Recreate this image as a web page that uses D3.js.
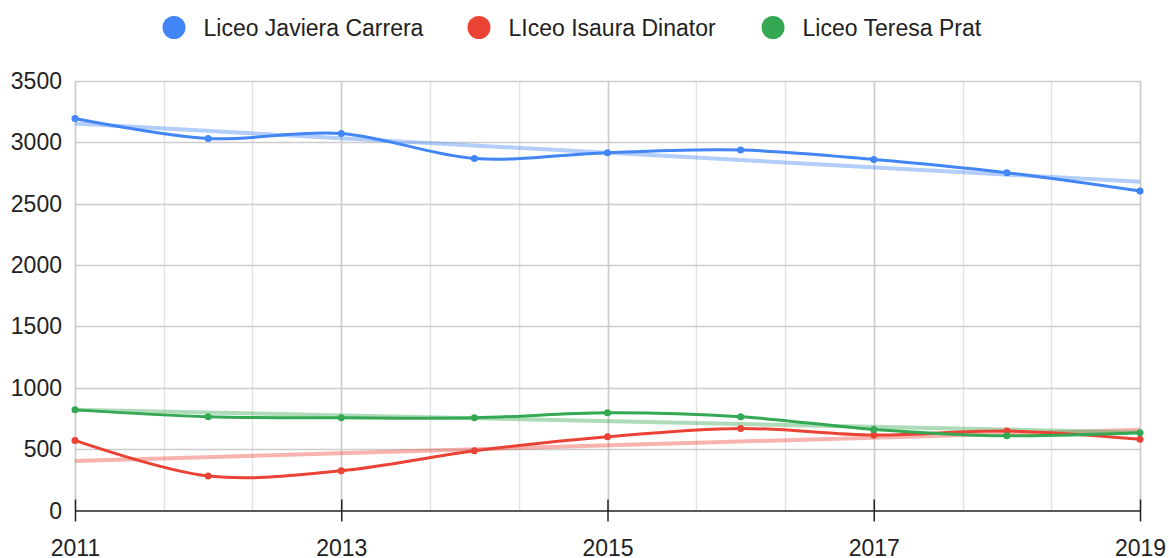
<!DOCTYPE html>
<html>
<head>
<meta charset="utf-8">
<script src="https://cdn.jsdelivr.net/npm/d3@7"></script>
<style>
  body { margin: 0; background: #fff; }
  text { font-family: Arial, "Liberation Sans", sans-serif; fill: #222; }
</style>
</head>
<body>
<div id="chartArea"></div>
<script>
let years = [2011, 2012, 2013, 2014, 2015, 2016, 2017, 2018, 2019]
let seriesNames = ['Liceo Javiera Carrera', 'LIceo Isaura Dinator', 'Liceo Teresa Prat']
let javiera = [3195, 3032, 3073, 2869, 2916, 2937, 2861, 2753, 2603]
let isaura = [571, 281, 324, 487, 601, 669, 615, 647, 580]
let teresa = [820, 764, 755, 755, 796, 764, 661, 609, 633]
let yTicks = [0, 500, 1000, 1500, 2000, 2500, 3000, 3500]
let xTicks = [2011, 2013, 2015, 2017, 2019]

let colors = ['#4285f4', '#ea4335', '#34a853']
let allSeries = [javiera, isaura, teresa]

let svgWidth = 1169
let svgHeight = 558

let xScale = d3.scaleLinear()
              .domain([2011, 2019])
              .range([75, 1140])

let yScale = d3.scaleLinear()
              .domain([0, 3500])
              .range([510.5, 81])

let svg = d3.select('#chartArea')
    .append('svg')
    .attr('width', svgWidth)
    .attr('height', svgHeight)

// minor vertical gridlines (3 per 2 years)
let minor = d3.range(2011, 2019.01, 2 / 3)
svg.append('g').selectAll('line')
    .data(minor)
    .enter()
    .append('line')
    .attr('x1', d => Math.round(xScale(d)) + 0.5)
    .attr('x2', d => Math.round(xScale(d)) + 0.5)
    .attr('y1', yScale(3500))
    .attr('y2', yScale(0))
    .attr('stroke', '#e3e3e3')
    .attr('stroke-width', 1.5)

// major vertical gridlines
svg.append('g').selectAll('line')
    .data(xTicks)
    .enter()
    .append('line')
    .attr('x1', d => Math.round(xScale(d)) + 0.5)
    .attr('x2', d => Math.round(xScale(d)) + 0.5)
    .attr('y1', yScale(3500))
    .attr('y2', yScale(0))
    .attr('stroke', '#cccccc')
    .attr('stroke-width', 1.5)

// horizontal gridlines
svg.append('g').selectAll('line')
    .data(yTicks.slice(1))
    .enter()
    .append('line')
    .attr('x1', xScale(2011))
    .attr('x2', xScale(2019))
    .attr('y1', d => Math.round(yScale(d)) + 0.5)
    .attr('y2', d => Math.round(yScale(d)) + 0.5)
    .attr('stroke', '#cccccc')
    .attr('stroke-width', 1.5)

// y labels
svg.append('g').selectAll('text')
    .data(yTicks)
    .enter()
    .append('text')
    .attr('x', 62)
    .attr('y', d => yScale(d) + 8)
    .attr('text-anchor', 'end')
    .style('font-size', '23px')
    .text(d => d)

// x axis
let xAxis = d3.axisBottom(xScale)
    .tickValues(xTicks)
    .tickFormat(d3.format('d'))
    .tickSize(0)
    .tickPadding(0)
let ax = svg.append('g')
    .attr('transform', `translate(0,${yScale(0)})`)
    .call(xAxis)
ax.select('.domain').attr('stroke', '#222').attr('stroke-width', 1.5)
ax.selectAll('.tick line').remove()
ax.selectAll('.tick')
    .append('line')
    .attr('y1', -11)
    .attr('y2', 11)
    .attr('stroke', '#222')
    .attr('stroke-width', 1.5)
ax.selectAll('.tick text')
    .attr('y', 45)
    .attr('dy', 0)
    .style('font-size', '23px')
    .style('font-family', 'Arial, "Liberation Sans", sans-serif')
    .attr('fill', '#222')

// trend lines (least squares over the series)
function trend(vals) {
  let mx = d3.mean(years)
  let my = d3.mean(vals)
  let sxy = d3.sum(years, (x, i) => (x - mx) * (vals[i] - my))
  let sxx = d3.sum(years, x => (x - mx) * (x - mx))
  let b = sxy / sxx
  return [2011, 2019].map(x => [x, my + b * (x - mx)])
}

let line = d3.line()
    .x(d => xScale(d[0]))
    .y(d => yScale(d[1]))

allSeries.forEach((vals, i) => {
  svg.append('path')
    .attr('d', line(trend(vals)))
    .attr('fill', 'none')
    .attr('stroke', colors[i])
    .attr('stroke-opacity', 0.4)
    .attr('stroke-width', 4)
})

let curve = d3.line()
    .x(d => xScale(d[0]))
    .y(d => yScale(d[1]))
    .curve(d3.curveCatmullRom.alpha(0.5))

allSeries.forEach((vals, i) => {
  let pts = years.map((y, j) => [y, vals[j]])
  svg.append('path')
    .attr('d', curve(pts))
    .attr('fill', 'none')
    .attr('stroke', colors[i])
    .attr('stroke-width', 3)
  svg.append('g').selectAll('circle')
    .data(pts)
    .enter()
    .append('circle')
    .attr('cx', d => xScale(d[0]))
    .attr('cy', d => yScale(d[1]))
    .attr('r', 3.5)
    .attr('fill', colors[i])
})

// legend
let legendX = [174, 479, 773]
let legend = svg.append('g')
seriesNames.forEach((name, i) => {
  legend.append('circle')
    .attr('cx', legendX[i])
    .attr('cy', 27.5)
    .attr('r', 11.5)
    .attr('fill', colors[i])
  legend.append('text')
    .attr('x', legendX[i] + 29.5)
    .attr('y', 35.5)
    .style('font-size', '23px')
    .text(name)
})
</script>
</body>
</html>
